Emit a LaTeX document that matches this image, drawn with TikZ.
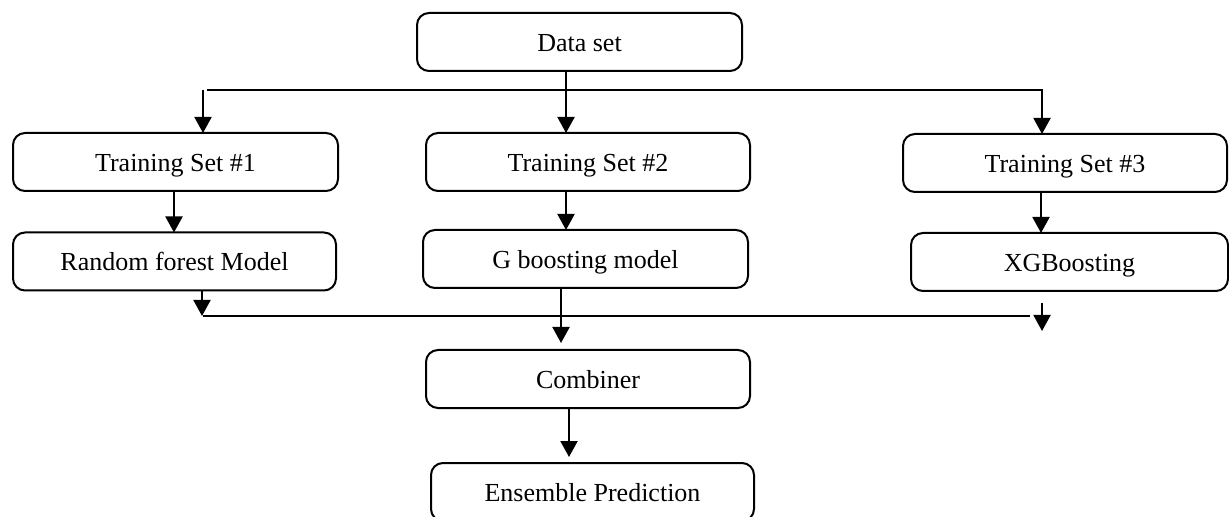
\documentclass[tikz,border=0pt]{standalone}
\usepackage{fontspec}
\setmainfont{Liberation Serif}
\usetikzlibrary{arrows.meta}
\tikzset{
  stage/.style={draw, line width=1pt, rounded corners=6pt, minimum height=29pt,
    inner sep=0pt, outer sep=0pt, text height=11pt, text depth=1.5pt,
    font=\fontsize{13}{15.6}\selectfont},
  link/.style={line width=1pt},
  arr/.style={line width=1pt, -{Triangle[width=8.5pt,length=8pt]}}
}
\begin{document}
\begin{tikzpicture}[x=0.5pt,y=-0.5pt]
\useasboundingbox (0,0) rectangle (1229,517);

% boxes
\node[stage, minimum width=162.5pt] (data) at (579.5,42)  {Data set};
\node[stage, minimum width=162.5pt] (ts1)  at (175.5,162) {Training Set \#1};
\node[stage, minimum width=162pt]   (ts2)  at (588,162)   {Training Set \#2};
\node[stage, minimum width=162pt]   (ts3)  at (1065,163)  {Training Set \#3};
\node[stage, minimum width=161.5pt] (rf)   at (174.5,261.5) {Random forest Model};
\node[stage, minimum width=162.5pt] (gb)   at (585.5,259) {G boosting model};
\node[stage, minimum width=158.5pt] (xg)   at (1069.5,262) {XGBoosting};
\node[stage, minimum width=162pt]   (comb) at (588,379)   {Combiner};
\node[stage, minimum width=161.5pt] (ens)  at (592.5,492) {Ensemble Prediction};

% split of the data set
\coordinate (topL)  at (203,90);
\coordinate (topL2) at (207,90);
\coordinate (topR)  at (1042,90);
\draw[arr] (566,0 |- data.south) -- (566,0 |- ts2.north);
\draw[arr] (topL2) -- (topR) -- (topR |- ts3.north);
\draw[arr] (topL) -- (topL |- ts1.north);

% training sets to models
\draw[arr] (174,0 |- ts1.south) -- (174,0 |- rf.north);
\draw[arr] (566,0 |- ts2.south) -- (566,0 |- gb.north);
\draw[arr] (1041,0 |- ts3.south) -- (1041,0 |- xg.north);

% models to combiner
\coordinate (botL)  at (202,316);
\coordinate (botL2) at (203,316);
\coordinate (botR)  at (1030,316);
\coordinate (stubR) at (1042,303);
\coordinate (stubRe) at (1042,331);
\coordinate (combIn) at (561,343);
\draw[arr] (202,0 |- rf.south) -- (botL);
\draw[link] (botL2) -- (botR);
\draw[arr] (stubR) -- (stubRe);
\draw[arr] (561,0 |- gb.south) -- (combIn);

% combiner to prediction
\draw[arr, shorten >=3pt] (569,0 |- comb.south) -- (569,0 |- ens.north);
\end{tikzpicture}
\end{document}
